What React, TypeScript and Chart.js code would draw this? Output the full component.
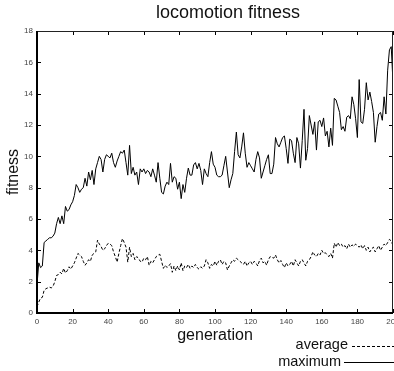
import React, { useEffect, useRef } from "react";
import { Chart, registerables } from "chart.js";

Chart.register(...registerables);

const chartTitle = "locomotion fitness";
const xAxisTitle = "generation";
const yAxisTitle = "fitness";
const legendLabels = ["average", "maximum"];

const xTicks = [0, 20, 40, 60, 80, 100, 120, 140, 160, 180, 200];
const yTicks = [0, 2, 4, 6, 8, 10, 12, 14, 16, 18];

// fitness per generation 0..200
const maximumFitness = [
  1.8, 3.2, 2.9, 3.0, 4.5, 4.6, 4.7, 4.8, 4.8, 4.9,
  5.1, 5.7, 6.1, 5.7, 6.2, 5.7, 6.8, 6.5, 6.6, 6.9,
  7.1, 7.5, 8.2, 8.0, 7.7, 7.9, 8.0, 8.6, 8.1, 9.0,
  8.5, 9.1, 8.2, 9.2, 9.6, 10.0, 9.8, 9.0, 9.8, 10.1,
  10.0, 9.9, 10.2, 9.6, 9.3, 9.7, 10.0, 10.3, 10.2, 10.4,
  9.6, 8.8, 10.7, 8.9, 9.3, 8.8, 9.0, 8.2, 9.2, 9.0,
  9.2, 8.9, 9.1, 9.0, 8.7, 9.2, 8.8, 8.35, 9.6, 8.6,
  7.7, 7.6, 8.1, 8.35, 8.2, 9.55, 8.35, 8.7, 8.6, 7.9,
  8.35, 7.3, 8.2, 7.7, 8.6, 9.25, 8.8, 8.8, 9.45, 9.6,
  9.2, 9.55, 9.1, 8.2, 9.2, 8.9, 8.7, 9.6, 10.3, 9.5,
  9.3, 8.8, 8.7, 8.7, 8.8, 9.4, 10.0, 9.0, 8.0, 8.5,
  8.9, 10.3, 11.55, 10.1, 9.9, 10.6, 11.5, 10.2, 9.3, 9.6,
  9.4, 9.2, 9.0, 9.8, 10.3, 9.9, 8.6, 9.0, 9.4, 9.8,
  10.1, 8.9, 8.9, 9.5, 11.2, 10.8, 10.6, 10.9, 11.2, 11.3,
  10.5, 9.55, 11.1, 11.0, 10.2, 9.6, 11.2, 10.8, 9.25, 11.0,
  13.0, 9.75, 10.5, 12.6, 12.0, 11.4, 12.2, 10.4, 12.2, 12.3,
  11.9, 12.45, 11.3, 11.6, 10.6, 11.8, 10.7, 13.7, 13.6, 13.2,
  12.8, 11.7, 11.9, 11.6, 12.5, 12.6, 12.4, 13.8, 13.3, 12.4,
  11.2, 14.9, 12.2, 12.1, 13.0, 14.7, 13.6, 14.1, 13.5, 12.8,
  10.9, 11.9, 12.7, 12.8, 12.3, 13.8, 12.7, 15.5, 16.8, 17.0,
  14.7,
];

const averageFitness = [
  0.4, 0.7, 0.95, 1.0, 1.45, 1.55, 1.6, 1.65, 1.6, 1.7,
  2.0, 2.4, 2.45, 2.6, 2.5, 2.85, 2.55, 2.7, 2.95, 2.8,
  3.0, 3.2, 3.5, 3.8, 3.7, 3.6, 3.3, 3.05, 3.2, 3.4,
  3.3, 3.7, 3.8, 3.9, 4.65, 4.4, 4.25, 4.0, 4.1, 4.3,
  4.45, 4.4, 4.3, 3.9, 3.6, 3.25, 3.8, 4.3, 4.75, 4.5,
  4.2, 3.25, 4.2, 3.6, 3.8, 3.4, 3.6, 3.5, 3.3, 3.25,
  3.5, 3.4, 3.6, 3.05, 3.3, 3.2, 3.4, 3.6, 3.7, 3.75,
  3.3, 2.85, 3.05, 2.9, 3.0, 3.15, 2.6, 3.0, 2.7, 3.0,
  2.75, 3.2, 2.7, 3.0, 2.9, 3.1, 2.85, 3.0, 2.9, 3.1,
  2.9, 2.8, 2.95, 2.85, 3.0, 3.4, 3.2, 2.85, 3.1, 3.0,
  3.3, 3.05, 3.3, 3.4, 3.1, 3.3, 3.2, 2.75, 3.0, 3.2,
  3.4, 3.3, 3.5, 3.4, 3.3, 3.2, 3.1, 3.3, 3.0, 3.2,
  3.3, 3.1, 3.3, 3.2, 3.0, 3.35, 3.5, 3.2, 3.3, 3.05,
  3.4, 3.6, 3.55, 3.5, 3.7, 3.4, 3.2, 3.35, 3.1, 2.9,
  3.2, 3.0, 3.1, 3.3, 3.0, 3.4, 3.2, 3.0, 3.3, 3.4,
  3.2, 3.0, 3.3, 3.4, 3.6, 3.9, 3.7, 3.6, 3.8, 3.7,
  4.0, 3.8, 3.85, 3.7, 3.6, 3.8, 3.5, 4.45, 4.2, 4.5,
  4.3, 4.4, 4.2, 4.3, 4.1, 4.4, 4.2, 4.35, 4.25, 4.4,
  4.3, 4.2, 4.35, 4.1, 4.3, 4.0, 4.2, 3.9, 4.1, 4.2,
  3.9, 4.1, 4.3, 4.0, 4.2, 4.4, 4.3, 4.5, 4.7, 4.6,
  4.3,
];

const FONT = "'Liberation Sans', Arial, Helvetica, sans-serif";

const framePlugin = {
  id: "frame",
  afterDraw(chart: any) {
    const ctx = chart.ctx;
    const { left, right, top, bottom } = chart.chartArea;
    const xs = chart.scales.x;
    const ys = chart.scales.y;
    ctx.save();
    ctx.strokeStyle = "#000";
    // ticks inward on all sides
    ctx.lineWidth = 1;
    const tl = 4;
    ctx.beginPath();
    xTicks.forEach((v) => {
      const px = Math.round(xs.getPixelForValue(v)) + 0.5;
      ctx.moveTo(px, bottom);
      ctx.lineTo(px, bottom - tl);
      ctx.moveTo(px, top);
      ctx.lineTo(px, top + tl);
    });
    yTicks.forEach((v) => {
      const py = Math.round(ys.getPixelForValue(v)) + 0.5;
      ctx.moveTo(left, py);
      ctx.lineTo(left + tl, py);
      ctx.moveTo(right, py);
      ctx.lineTo(right - tl, py);
    });
    ctx.stroke();
    // box
    ctx.lineWidth = 1;
    ctx.strokeStyle = "#222";
    ctx.beginPath();
    ctx.moveTo(left, top + 0.5);
    ctx.lineTo(right, top + 0.5);
    ctx.moveTo(right - 0.5, top);
    ctx.lineTo(right - 0.5, bottom);
    ctx.stroke();
    ctx.lineWidth = 2;
    ctx.strokeStyle = "#000";
    ctx.beginPath();
    ctx.moveTo(left, top);
    ctx.lineTo(left, bottom);
    ctx.lineTo(right, bottom);
    ctx.stroke();

    // title
    ctx.fillStyle = "#111";
    ctx.font = `18px ${FONT}`;
    ctx.textAlign = "center";
    ctx.textBaseline = "middle";
    ctx.fillText(chartTitle, 228, 13);

    // legend
    ctx.font = `14.5px ${FONT}`;
    ctx.textAlign = "right";
    ctx.fillText(legendLabels[0], 348, 345);
    ctx.fillText(legendLabels[1], 341, 362);
    ctx.lineWidth = 1;
    ctx.strokeStyle = "#000";
    ctx.setLineDash([3, 2]);
    ctx.beginPath();
    ctx.moveTo(352, 346.5);
    ctx.lineTo(394, 346.5);
    ctx.stroke();
    ctx.setLineDash([]);
    ctx.beginPath();
    ctx.moveTo(344, 362.5);
    ctx.lineTo(394, 362.5);
    ctx.stroke();
    ctx.restore();
  },
};

export default function App() {
  const ref = useRef<HTMLCanvasElement | null>(null);
  useEffect(() => {
    if (!ref.current) return;
    const chart = new Chart(ref.current, {
      type: "line",
      data: {
        datasets: [
          {
            label: legendLabels[0],
            data: averageFitness.map((y, i) => ({ x: i, y })),
            borderColor: "#000",
            borderWidth: 1,
            borderDash: [3, 2],
            pointRadius: 0,
            tension: 0,
            fill: false,
          },
          {
            label: legendLabels[1],
            data: maximumFitness.map((y, i) => ({ x: i, y })),
            borderColor: "#000",
            borderWidth: 1,
            pointRadius: 0,
            tension: 0,
            fill: false,
          },
        ],
      },
      options: {
        animation: false,
        responsive: false,
        devicePixelRatio: 1,
        layout: { padding: { top: 31, right: 1, left: 0, bottom: 0 } },
        plugins: {
          legend: { display: false },
          title: { display: false },
          tooltip: { enabled: false },
        },
        scales: {
          x: {
            type: "linear",
            min: 0,
            max: 200,
            afterBuildTicks: (s: any) => {
              s.ticks = xTicks.map((v) => ({ value: v }));
            },
            afterFit: (s: any) => {
              s.height = 58;
              s.paddingLeft = 0;
              s.paddingRight = 0;
            },
            grid: { display: false, drawTicks: false },
            border: { display: false },
            ticks: {
              padding: 4,
              maxRotation: 0,
              autoSkip: false,
              color: "#444",
              font: { family: FONT, size: 8 },
            },
            title: {
              display: true,
              text: xAxisTitle,
              color: "#111",
              font: { family: FONT, size: 16 },
              padding: { top: 0, bottom: 26 },
            },
          },
          y: {
            type: "linear",
            min: 0,
            max: 18,
            afterBuildTicks: (s: any) => {
              s.ticks = yTicks.map((v) => ({ value: v }));
            },
            afterFit: (s: any) => {
              s.width = 37;
              s.paddingTop = 0;
              s.paddingBottom = 0;
            },
            grid: { display: false, drawTicks: false },
            border: { display: false },
            ticks: {
              padding: 4,
              autoSkip: false,
              color: "#444",
              font: { family: FONT, size: 8 },
            },
            title: {
              display: true,
              text: yAxisTitle,
              color: "#111",
              font: { family: FONT, size: 16 },
              padding: { top: 4, bottom: 0 },
            },
          },
        },
      },
      plugins: [framePlugin],
    });
    return () => chart.destroy();
  }, []);
  return (
    <div
      style={{
        position: "fixed",
        left: 0,
        top: 0,
        width: 394,
        height: 371,
        overflow: "hidden",
        background: "#fff",
      }}
    >
      <canvas ref={ref} width={394} height={371} style={{ display: "block" }} />
    </div>
  );
}
